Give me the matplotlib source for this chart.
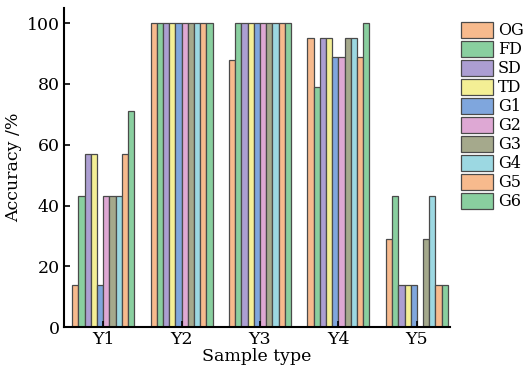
import numpy as np
import matplotlib
matplotlib.use('Agg')
import matplotlib.pyplot as plt

samples = ['Y1', 'Y2', 'Y3', 'Y4', 'Y5']
methods = ['OG', 'FD', 'SD', 'TD', 'G1', 'G2', 'G3', 'G4', 'G5', 'G6']
colors = ['#F7BA8D', '#89CF9F', '#AC9ED2', '#F4EF95', '#7FA6DD',
          '#DEA8D4', '#A5A98C', '#9CD8E2', '#F7BA8D', '#89CF9F']

# accuracy per method, one value per sample type Y1..Y5
og = [14, 100, 88, 95, 29]
fd = [43, 100, 100, 79, 43]
sd = [57, 100, 100, 95, 14]
td = [57, 100, 100, 95, 14]
g1 = [14, 100, 100, 89, 14]
g2 = [43, 100, 100, 89, 0]
g3 = [43, 100, 100, 95, 29]
g4 = [43, 100, 100, 95, 43]
g5 = [57, 100, 100, 89, 14]
g6 = [71, 100, 100, 100, 14]
values = [og, fd, sd, td, g1, g2, g3, g4, g5, g6]

plt.rcParams['font.family'] = ['DejaVu Serif']
plt.rcParams['font.size'] = 12.5

fig = plt.figure(figsize=(5.28, 3.76), dpi=100)
ax = fig.add_axes([0.121, 0.130, 0.731, 0.849])

x = np.arange(len(samples))
width = 0.079
for i, (name, vals) in enumerate(zip(methods, values)):
    offset = (i - 4.5) * width
    ax.bar(x + offset, vals, width, color=colors[i], edgecolor='#4a4a4a',
           linewidth=0.9, label=name)

ax.set_xlim(-0.5, 4.42)
ax.set_ylim(0, 105)
ax.set_xticks(x)
ax.set_xticklabels(samples)
ax.set_yticks(range(0, 101, 20))
ax.tick_params(direction='in', length=4, width=1.2, pad=3)
for s in ['top', 'right']:
    ax.spines[s].set_visible(False)
for s in ['left', 'bottom']:
    ax.spines[s].set_linewidth(1.5)

ax.set_xlabel('Sample type', labelpad=0)
ax.set_ylabel('Accuracy /%', labelpad=3)

ax.legend(loc='upper left', bbox_to_anchor=(1.0, 0.99), frameon=False,
          fontsize=11.5, handlelength=2.0, handleheight=1.1, labelspacing=0.12,
          handletextpad=0.3, borderaxespad=0.5, borderpad=0.2)

fig.savefig('out.png', dpi=100)
